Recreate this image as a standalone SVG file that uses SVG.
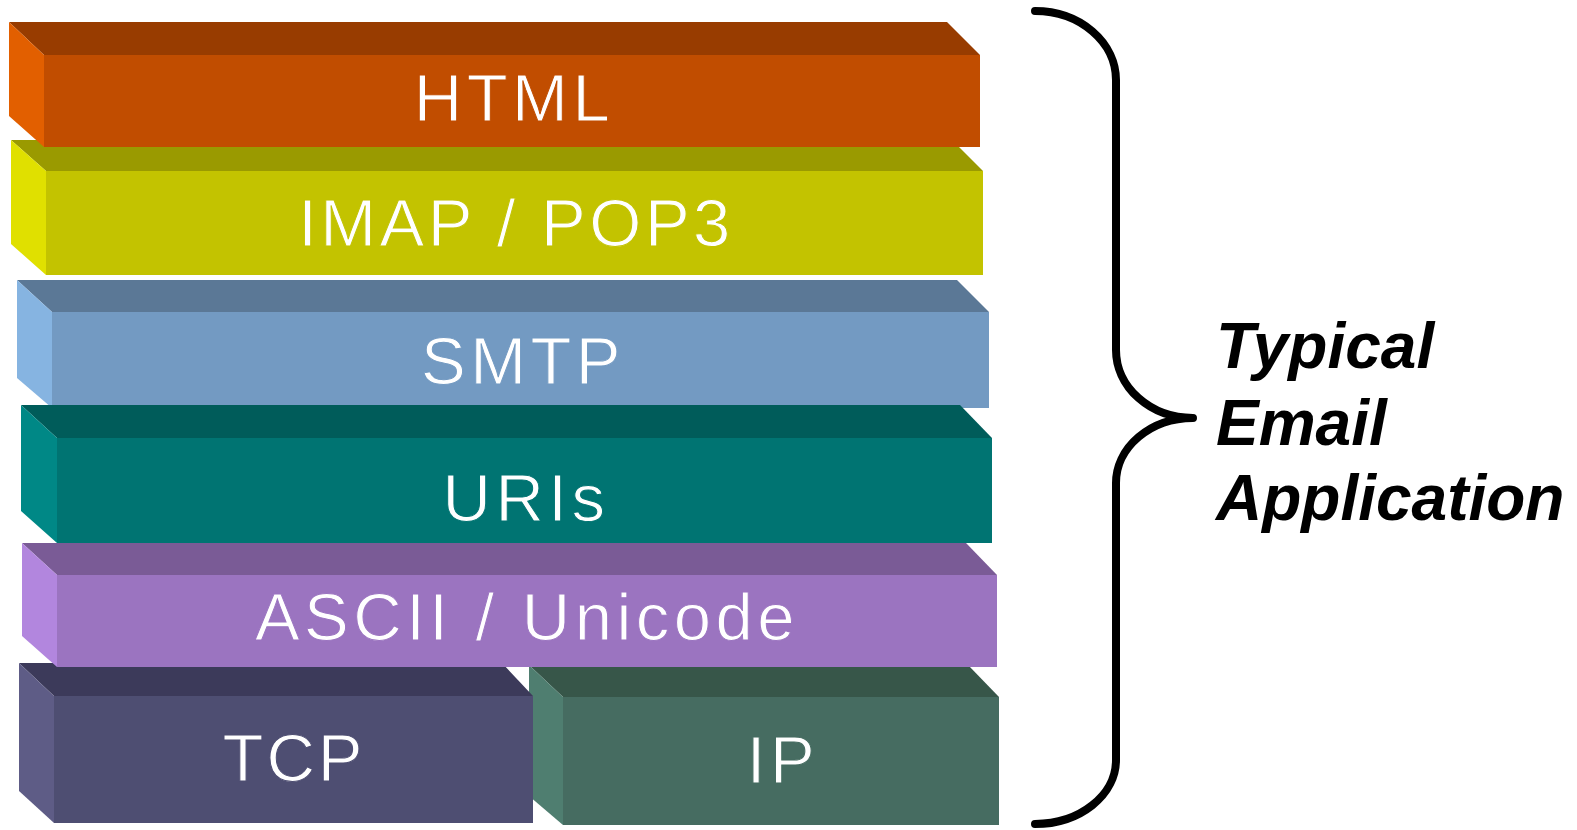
<svg xmlns="http://www.w3.org/2000/svg" width="1577" height="830" viewBox="0 0 1577 830">
<style>
.lbl{font-family:"Liberation Sans",Arial,sans-serif;font-size:67px;fill:#ffffff;letter-spacing:4.5px;text-anchor:middle;stroke-width:1}
.side{font-family:"Liberation Sans",Arial,sans-serif;font-size:64px;font-weight:bold;font-style:italic;fill:#000000}
.brace{fill:none;stroke:#000000;stroke-width:8;stroke-linecap:round;stroke-linejoin:round}
</style>
<rect width="1577" height="830" fill="#ffffff"/>
<g id="ip">
<polygon points="529,665 968,665 999,697 563,697" fill="#375649"/>
<polygon points="529,665 563,697 563,825 529,796" fill="#4F7E70"/>
<rect x="563" y="697" width="436" height="128" fill="#466C61"/>
<text class="lbl" x="783" y="783" stroke="#466C61">IP</text>
</g>
<g id="tcp">
<polygon points="19,663 502,663 533,696 54,696" fill="#3C3A5A"/>
<polygon points="19,663 54,696 54,823 19,791" fill="#5E5C86"/>
<rect x="54" y="696" width="479" height="127" fill="#4E4E72"/>
<text class="lbl" x="294" y="781" stroke="#4E4E72" style="letter-spacing:3px">TCP</text>
</g>
<g id="ascii">
<polygon points="22,543 966,543 997,575 57,575" fill="#7A5B96"/>
<polygon points="22,543 57,575 57,667 22,636" fill="#B286DE"/>
<rect x="57" y="575" width="940" height="92" fill="#9B74C0"/>
<text class="lbl" x="527" y="640" stroke="#9B74C0">ASCII / Unicode</text>
</g>
<g id="smtp">
<polygon points="17,280 957,280 989,312 52,312" fill="#5B7896"/>
<polygon points="17,280 52,312 52,408 17,378" fill="#86B4E1"/>
<rect x="52" y="312" width="937" height="96" fill="#739AC2"/>
<text class="lbl" x="523" y="384" stroke="#739AC2">SMTP</text>
</g>
<g id="uris">
<polygon points="21,405 960,405 992,438 57,438" fill="#005C5A"/>
<polygon points="21,405 57,438 57,543 21,511" fill="#008886"/>
<rect x="57" y="438" width="935" height="105" fill="#007472"/>
<text class="lbl" x="526" y="521" stroke="#007472">URIs</text>
</g>
<g id="imap">
<polygon points="11,140 952,140 983,171 46,171" fill="#9A9A00"/>
<polygon points="11,140 46,171 46,275 11,244" fill="#E0E000"/>
<rect x="46" y="171" width="937" height="104" fill="#C3C300"/>
<text class="lbl" x="516" y="246" stroke="#C3C300" style="letter-spacing:3.5px">IMAP / POP3</text>
</g>
<g id="html">
<polygon points="9,22 947,22 980,55 44,55" fill="#983C00"/>
<polygon points="9,22 44,55 44,147 9,116" fill="#E25F00"/>
<rect x="44" y="55" width="936" height="92" fill="#C14D00"/>
<text class="lbl" x="514" y="121" stroke="#C14D00">HTML</text>
</g>
<g id="connectors">
<path class="brace" d="M1035,11 A81,69 0 0 1 1116,80 L1116,350 A77,68 0 0 0 1193,418 A77,65 0 0 0 1116,483 L1116,760 A81,64 0 0 1 1035,824"/>
</g>
<g id="label">
<text class="side" x="1216" y="368">Typical</text>
<text class="side" x="1216" y="445">Email</text>
<text class="side" x="1216" y="520">Application</text>
</g>
</svg>
